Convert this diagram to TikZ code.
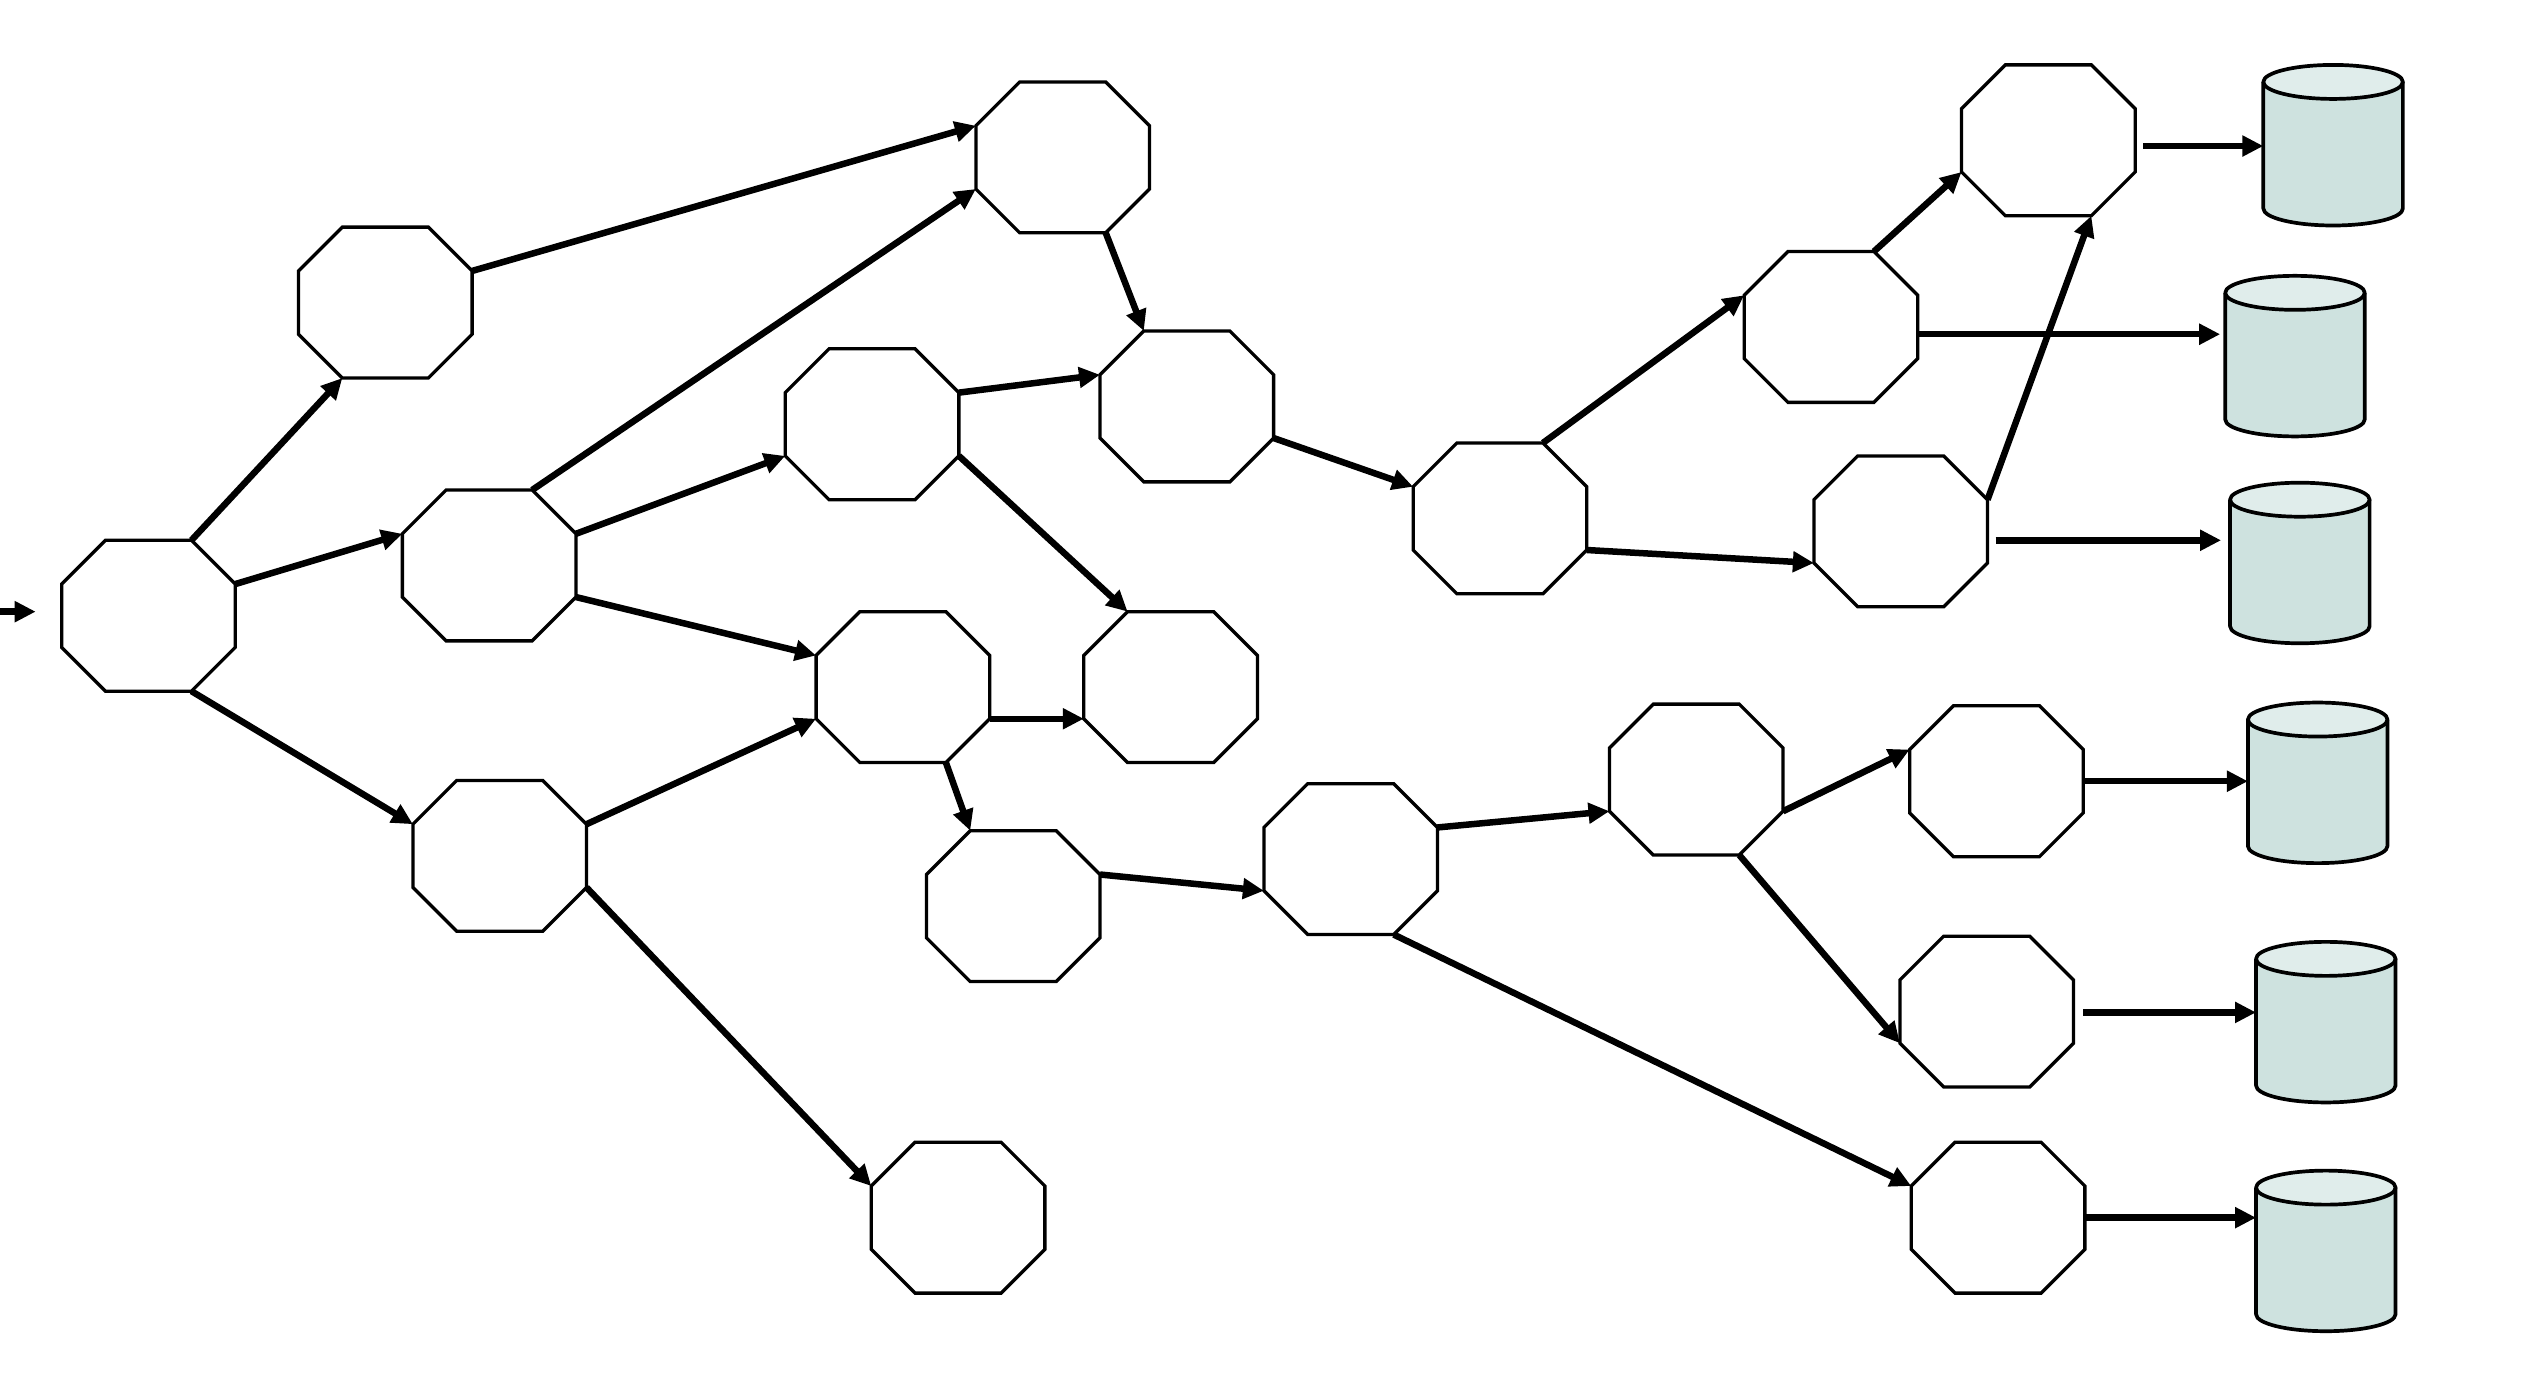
\documentclass[tikz,border=0pt]{standalone}
\usetikzlibrary{arrows.meta,calc}
\definecolor{cylbody}{HTML}{CEE2DF}
\definecolor{cyltop}{HTML}{E0EDEB}
\tikzset{
  octbox/.style={draw=none, inner sep=0pt, outer sep=0pt, minimum width=1.736cm, minimum height=1.509cm},
  octline/.style={draw=black, line width=0.033cm, line join=miter},
  arr/.style={draw=black, line width=0.065cm, -{Triangle[length=0.21cm,width=0.2cm]}},
  cylbox/.style={draw=none, inner sep=0pt, outer sep=0pt, minimum width=1.395cm, minimum height=1.606cm},
  cylline/.style={draw=black, line width=0.037cm, line join=round},
}
\newcommand\octo[3]{%
  \node[octbox] (#1) at (#2,#3) {};
  \coordinate (#1-tl) at (#2-26.5,#3-46.5);
  \coordinate (#1-tr) at (#2+26.5,#3-46.5);
  \coordinate (#1-rt) at (#2+53.5,#3-19.5);
  \coordinate (#1-rb) at (#2+53.5,#3+19.5);
  \coordinate (#1-br) at (#2+26.5,#3+46.5);
  \coordinate (#1-bl) at (#2-26.5,#3+46.5);
  \coordinate (#1-lb) at (#2-53.5,#3+19.5);
  \coordinate (#1-lt) at (#2-53.5,#3-19.5);
  \draw[octline] (#1-tl) -- (#1-tr) -- (#1-rt) -- (#1-rb) -- (#1-br) -- (#1-bl) -- (#1-lb) -- (#1-lt) -- cycle;
}
\newcommand\cylstore[3]{%
  \node[cylbox] (#1) at (#2,#3) {};
  \path[cylline, fill=cylbody] ($(#1.north west)+(0,10.5)$) -- ($(#1.south west)+(0,-10.5)$)
     arc[start angle=180, end angle=360, x radius=0.6975cm, y radius=0.17cm]
     -- ($(#1.north east)+(0,10.5)$);
  \draw[cylline, fill=cyltop] ($(#1.north)+(0,10.5)$) ellipse [x radius=0.6975cm, y radius=0.17cm];
}
\begin{document}
\begin{tikzpicture}[x=0.016224cm, y=-0.016224cm]
\useasboundingbox (0,0) rectangle (1568,852);
% octagons
\octo{A}{91.5}{379.5}
\octo{B}{237.5}{186.5}
\octo{C}{301.5}{348.5}
\octo{D}{308}{527.5}
\octo{E}{655}{97}
\octo{F}{537.5}{261.5}
\octo{G}{731.5}{250.5}
\octo{H}{556.5}{423.5}
\octo{I}{721.5}{423.5}
\octo{J}{624.5}{558.5}
\octo{K}{590.5}{750.5}
\octo{L}{924.5}{319.5}
\octo{M}{832.5}{529.5}
\octo{N}{1128.5}{201.5}
\octo{O}{1262.5}{86.5}
\octo{P}{1171.5}{327.5}
\octo{Q}{1045.5}{480.5}
\octo{R}{1230.5}{481.5}
\octo{S}{1224.5}{623.5}
\octo{T}{1231.5}{750.5}
% data stores
\cylstore{C1}{1438}{89.5}
\cylstore{C2}{1414.5}{219.5}
\cylstore{C3}{1417.5}{347}
\cylstore{C4}{1428.5}{482.5}
\cylstore{C5}{1433.5}{630}
\cylstore{C6}{1433.5}{771}
% incoming
\coordinate (src) at (0,377);
\coordinate (srcend) at (22,377);
\draw[arr] (src) -- (srcend);
% connectors
\draw[arr] (A-tr) -- (B-bl);
\draw[arr] (A-rt) -- (C-lt);
\draw[arr] (A-br) -- (D-lt);
\draw[arr] (B-rt) -- (E-lt);
\draw[arr] (C-tr) -- (E-lb);
\draw[arr] (C-rt) -- (F-lb);
\draw[arr] (C-rb) -- (H-lt);
\draw[arr] (D-rt) -- (H-lb);
\draw[arr] (D-rb) -- (K-lt);
\draw[arr] (E-br) -- (G-tl);
\draw[arr] (F-rt) -- (G-lt);
\draw[arr] (F-rb) -- (I-tl);
\draw[arr] (H-rb) -- (I-lb);
\draw[arr] (H-br) -- (J-tl);
\draw[arr] (G-rb) -- (L-lt);
\draw[arr] (J-rt) -- (M-lb);
\draw[arr] (L-tr) -- (N-lt);
\draw[arr] (L-rb) -- (P-lb);
\draw[arr] (N-tr) -- (O-lb);
\draw[arr] (P-rt) -- (O-br);
\draw[arr] (M-rt) -- (Q-lb);
\draw[arr] (M-br) -- (T-lt);
\draw[arr] (Q-rb) -- (R-lt);
\draw[arr] (Q-br) -- (S-lb);
% to data stores
\coordinate (o1) at ($(O.east)+(5,3.5)$);
\draw[arr] (o1) -- (o1 -| C1.west);
\coordinate (n1) at ($(N.east)+(0,4.5)$);
\draw[arr] (n1) -- ([xshift=-0.05cm]n1 -| C2.west);
\coordinate (p1) at ($(P.east)+(5,5.5)$);
\draw[arr] (p1) -- ([xshift=-0.09cm]p1 -| C3.west);
\coordinate (r1) at (R.east);
\draw[arr] (r1) -- (r1 -| C4.west);
\coordinate (s1) at ($(S.east)+(6,0.5)$);
\draw[arr] (s1) -- (s1 -| C5.west);
\coordinate (t1) at (T.east);
\draw[arr] (t1) -- (t1 -| C6.west);
\end{tikzpicture}
\end{document}
